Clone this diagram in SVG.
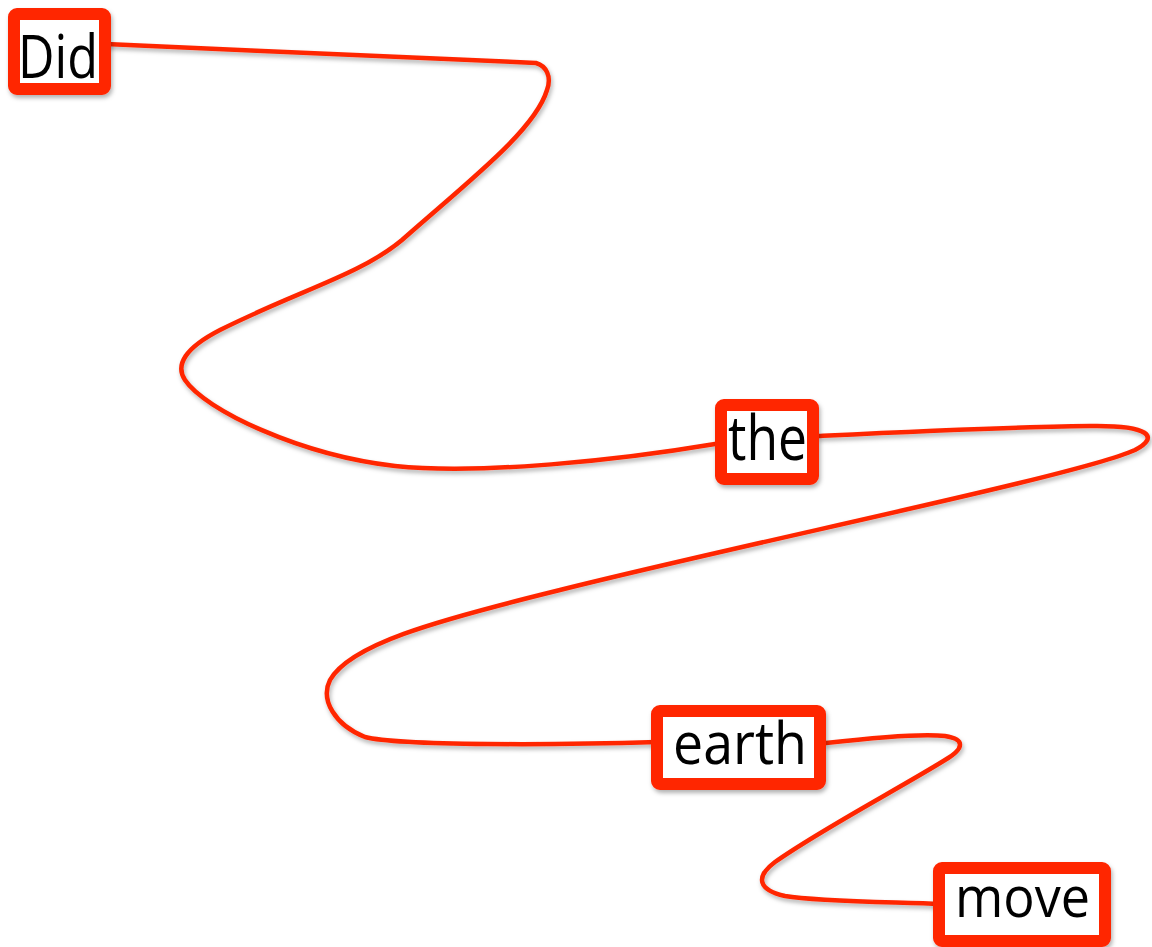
<svg xmlns="http://www.w3.org/2000/svg" width="1152" height="947" viewBox="0 0 1152 947">
<defs>
<filter id="sh" x="-10%" y="-10%" width="130%" height="140%">
<feDropShadow dx="1.5" dy="3" stdDeviation="2" flood-color="#000" flood-opacity="0.3"/>
</filter>
</defs>
<style>
.box{fill:#fff;stroke:#ff2600;stroke-width:12;filter:url(#sh)}
.conn{fill:none;stroke:#ff2600;stroke-width:4.5;stroke-linecap:round;stroke-linejoin:round;filter:url(#sh)}
.lbl{font-family:"Open Sans","Liberation Sans",sans-serif;fill:#000}
</style>
<rect width="1152" height="947" fill="#fff"/>
<g id="connectors">
<path class="conn" d="M106,44 L536,63 C546,66 552,76 547,90 C535,130 470,180 402,240 C360,275 300,290 220,330 C185,348 175,365 185,380 C205,410 300,455 395,466 C480,475 620,460 715,444"/>
<path class="conn" d="M819,436 C900,432 1000,427 1090,426 C1150,425 1160,437 1135,450 C1080,475 760,540 560,590 C430,622 350,645 330,680 C320,700 335,725 365,737 C400,746 560,745 657,742"/>
<path class="conn" d="M826,743 C870,738 920,733 945,736 C965,739 965,748 945,760 C900,788 820,830 775,862 C755,877 758,890 785,896 C820,902 900,902 940,904"/>
</g>
<g id="node-did">
<rect class="box" x="14" y="14" width="91" height="75" rx="3"/>
<text class="lbl" x="18" y="78" font-size="60" textLength="80" lengthAdjust="spacingAndGlyphs">Did</text>
</g>
<g id="node-the">
<rect class="box" x="721" y="405" width="92" height="74" rx="3"/>
<text class="lbl" x="728" y="460" font-size="63" textLength="79" lengthAdjust="spacingAndGlyphs">the</text>
</g>
<g id="node-earth">
<rect class="box" x="657" y="711" width="163" height="73" rx="3"/>
<text class="lbl" x="673" y="764" font-size="58" textLength="134" lengthAdjust="spacingAndGlyphs">earth</text>
</g>
<g id="node-move">
<rect class="box" x="939" y="868" width="166" height="73" rx="3"/>
<text class="lbl" x="955" y="917" font-size="56" textLength="135" lengthAdjust="spacingAndGlyphs">move</text>
</g>
</svg>
